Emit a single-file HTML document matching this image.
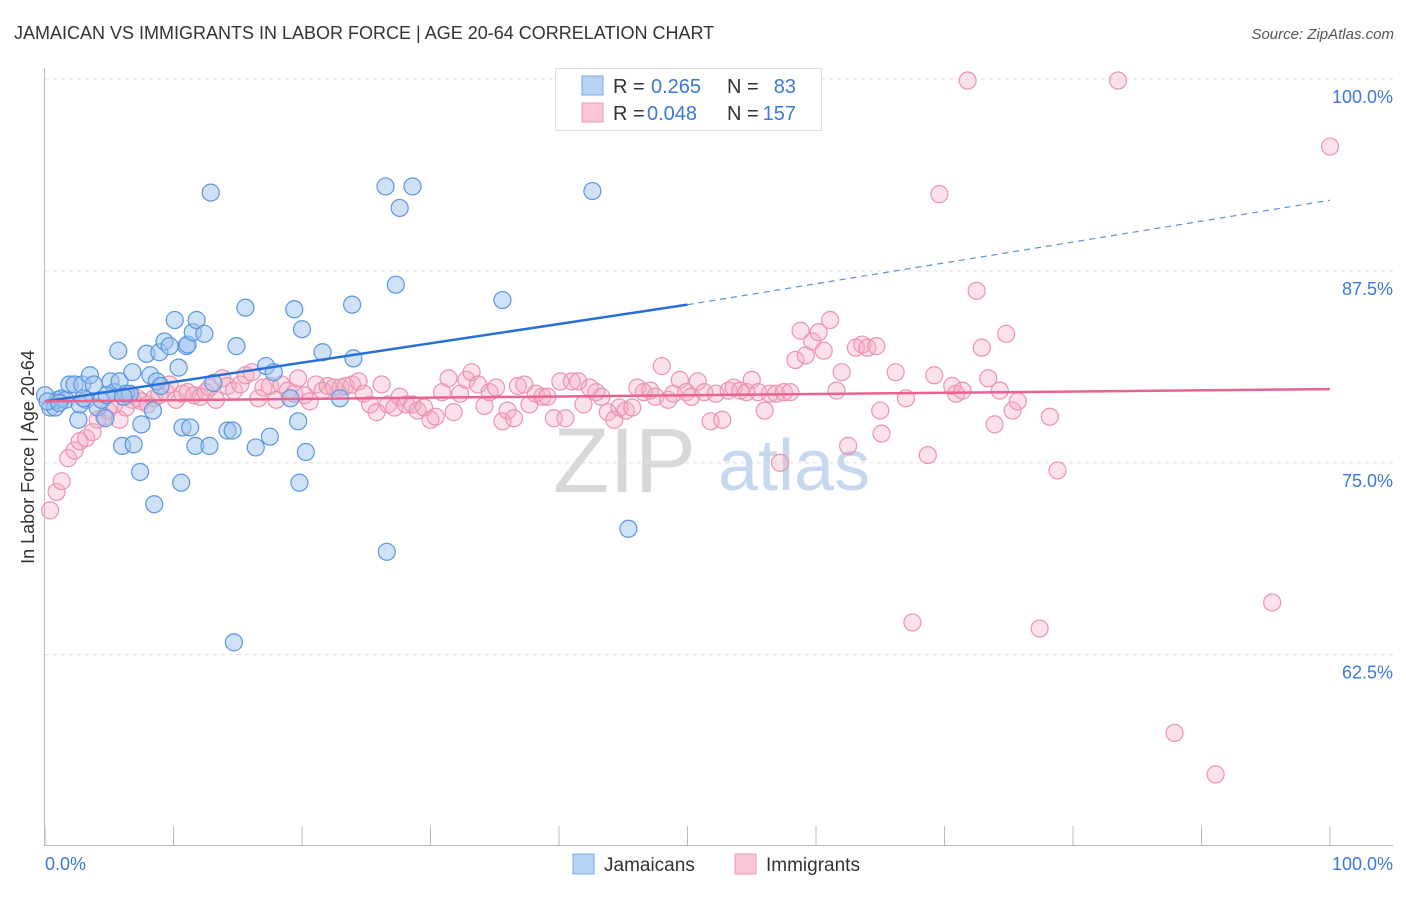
<!DOCTYPE html>
<html><head><meta charset="utf-8"><style>
body{margin:0;background:#fff;font-family:"Liberation Sans",sans-serif;}
svg text{font-family:"Liberation Sans",sans-serif;}
</style></head><body>
<svg id="chart" width="1406" height="892" xmlns="http://www.w3.org/2000/svg">
<text x="14" y="39" font-size="18" fill="#333">JAMAICAN VS IMMIGRANTS IN LABOR FORCE | AGE 20-64 CORRELATION CHART</text>
<text x="1394" y="39" font-size="15" fill="#555" font-style="italic" text-anchor="end">Source: ZipAtlas.com</text>
<g>
<text x="553" y="492" font-size="92" fill="#d8d8d8" font-family="Liberation Serif">ZIP</text>
<text x="718" y="490" font-size="72" fill="#c6d8ef">atlas</text>
</g>
<g id="grid"></g>
<g id="axes"></g>
<g id="pink"></g>
<g id="blue"></g>
<g id="trends"></g>
<text transform="translate(34,457) rotate(-90)" font-size="18" fill="#333" text-anchor="middle">In Labor Force | Age 20-64</text>
<text x="45" y="870" font-size="18" fill="#3b78d8">0.0%</text>
<text x="1393" y="870" font-size="18" fill="#3b78d8" text-anchor="end">100.0%</text>
<g>
<rect x="555.5" y="68.5" width="266" height="62" fill="#fff" stroke="#ddd"/>
<rect x="582" y="76" width="21" height="19" fill="#b6d2f5" stroke="#7aaae6"/>
<rect x="582" y="103" width="21" height="19" fill="#f9c6d6" stroke="#ec9ab5"/>
<text x="613" y="93" font-size="20" fill="#333">R =</text>
<text x="651" y="93" font-size="20" fill="#3b78d8">0.265</text>
<text x="727" y="93" font-size="20" fill="#333">N =</text>
<text x="796" y="93" font-size="20" fill="#3b78d8" text-anchor="end">83</text>
<text x="613" y="120" font-size="20" fill="#333">R =</text>
<text x="647" y="120" font-size="20" fill="#3b78d8">0.048</text>
<text x="727" y="120" font-size="20" fill="#333">N =</text>
<text x="796" y="120" font-size="20" fill="#3b78d8" text-anchor="end">157</text>
</g>
<g>
<rect x="573" y="854" width="21" height="20" fill="#b6d2f5" stroke="#7aaae6"/>
<text x="604" y="871" font-size="19" fill="#333">Jamaicans</text>
<rect x="735" y="854" width="21" height="20" fill="#f9c6d6" stroke="#ec9ab5"/>
<text x="766" y="871" font-size="19" fill="#333">Immigrants</text>
</g>
</svg>
<script>
const yTicks=[100,87.5,75,62.5];
const yTickLabels=["100.0%","87.5%","75.0%","62.5%"];
const xTicks=[0,10,20,30,40,50,60,70,80,90,100];
const blueX=[0,0.4,0.8,1.0,1.3,1.6,1.9,2.3,2.6,2.9,3.2,3.5,3.8,4.1,4.4,4.7,5.1,5.4,5.7,5.8,6.0,6.3,6.6,6.8,6.9,7.4,7.5,7.9,8.2,8.4,8.5,8.7,8.9,9.3,9.7,10.1,10.4,10.6,10.7,11.0,11.1,11.3,11.5,11.7,11.8,12.4,12.8,12.9,13.1,14.2,14.6,14.9,15.6,16.4,17.2,17.5,17.8,19.1,19.4,19.7,20.0,19.8,20.3,21.6,22.95,23.9,24.0,26.5,26.6,27.3,27.6,28.6,35.6,42.6,45.4,14.7,2.7,0.2,1.1,3.0,4.8,6.1,9.0];
const blueY=[79.4,78.6,78.6,79.1,79.2,79.1,80.1,80.1,77.8,80.1,79.1,80.7,80.1,78.6,79.1,77.9,80.3,79.6,82.3,80.3,76.1,79.5,79.5,80.9,76.2,74.4,77.5,82.1,80.7,78.4,72.3,80.3,82.2,82.9,82.6,84.3,81.2,73.7,77.3,82.6,82.7,77.3,83.5,76.1,84.3,83.4,76.1,92.6,80.2,77.1,77.1,82.6,85.1,76.0,81.3,76.7,80.9,79.2,85.0,77.7,83.7,73.7,75.7,82.2,79.2,85.3,81.8,93.0,69.2,86.6,91.6,93.0,85.6,92.7,70.7,63.3,78.8,79.0,78.9,79.2,79.4,79.3,80.0];
const pinkX=[0.4,0.9,1.3,1.8,2.3,2.7,3.2,3.7,4.1,4.6,4.9,5.4,5.8,6.3,6.8,7.2,7.5,8.0,8.5,8.9,9.4,9.7,10.2,10.7,11.1,11.6,12.1,12.5,12.8,13.3,13.8,14.2,14.7,15.2,15.6,16.1,16.6,17.0,17.5,18.0,18.4,18.9,19.4,19.7,20.2,20.6,21.1,21.6,22.0,22.5,23.0,23.4,23.9,24.4,24.8,25.3,25.8,26.2,26.7,27.2,27.6,28.1,28.6,29.0,29.5,30.0,30.4,30.9,31.4,31.8,32.3,32.8,33.2,33.7,34.2,34.6,35.1,35.6,36.0,36.5,36.8,37.3,37.7,38.2,38.7,39.1,39.6,40.1,40.5,41.0,41.5,41.9,42.4,42.9,43.3,43.8,44.3,44.7,45.2,45.7,46.1,46.6,47.1,47.5,48.0,48.5,48.9,49.4,49.9,50.3,50.8,51.3,51.8,52.2,52.7,53.2,53.6,54.1,54.6,55.0,55.5,56.0,56.4,56.9,57.2,57.5,58.0,58.4,58.8,59.2,59.7,60.2,60.6,61.1,61.6,62.0,62.5,63.1,63.6,64.0,64.7,65.0,65.1,66.2,67.0,67.5,68.7,69.2,69.6,70.6,70.9,71.4,71.8,72.5,72.9,73.4,73.9,74.3,74.8,75.3,75.7,78.2,77.4,78.8,83.5,87.9,91.1,95.5,100];
const pinkY=[71.9,73.1,73.8,75.3,75.8,76.4,76.6,77.0,77.8,78.0,78.4,78.8,77.8,78.6,79.1,79.2,79.0,78.8,79.2,79.4,79.6,80.1,79.1,79.5,79.6,79.4,79.3,79.6,79.9,79.1,80.5,80.0,79.7,80.1,80.7,80.9,79.2,79.9,80.0,79.1,80.1,79.7,79.5,80.5,79.4,79.0,80.1,79.7,80.0,79.9,79.9,80.0,80.1,80.3,79.5,78.8,78.3,80.1,78.8,78.6,79.3,78.8,78.8,78.4,78.6,77.8,78.0,79.6,80.5,78.3,79.5,80.4,80.9,80.1,78.7,79.6,79.9,77.7,78.4,77.9,80.0,80.1,78.8,79.5,79.3,79.3,77.9,80.3,77.9,80.3,80.3,78.8,79.9,79.6,79.3,78.3,77.8,78.6,78.4,78.6,79.9,79.6,79.7,79.3,81.3,79.1,79.5,80.4,79.6,79.3,80.3,79.6,77.7,79.5,77.8,79.7,79.9,79.7,79.6,80.4,79.6,78.4,79.5,79.5,75.0,79.6,79.6,81.7,83.6,82.0,82.9,83.5,82.3,84.3,79.7,80.9,76.1,82.5,82.7,82.5,82.6,78.4,76.9,80.9,79.2,64.6,75.5,80.7,92.5,80.0,79.5,79.7,99.9,86.2,82.5,80.5,77.5,79.7,83.4,78.4,79.0,78.0,64.2,74.5,99.9,57.4,54.7,65.9,95.6];
const blueTrend=[79.0,85.3,92.1]; // values at x=0, 50, 100
const pinkTrend=[79.0,79.8];     // values at x=0, 100

const X0=45,X1=1330,YTOP=79,YBOT=845,VMIN=50.1,VMAX=100;
const sx=v=>X0+(X1-X0)*v/100;
const sy=v=>YTOP+(VMAX-v)*(YBOT-YTOP)/(VMAX-VMIN);
const NS="http://www.w3.org/2000/svg";
function mk(tag,attrs,parent){const e=document.createElementNS(NS,tag);for(const k in attrs)e.setAttribute(k,attrs[k]);parent.appendChild(e);return e;}
const grid=document.getElementById('grid'),axes=document.getElementById('axes');
yTicks.forEach((t,i)=>{
  const g=mk('line',{x1:45,x2:1393,y1:sy(t),y2:sy(t),stroke:'#ddd','stroke-dasharray':'4,4'},grid);
  
  
  const l=mk('text',{x:1393,y:sy(t)+24,'font-size':18,fill:'#3b78d8','text-anchor':'end'},grid);
  l.textContent=yTickLabels[i];
  
  
});
const ya=mk('line',{x1:44.5,x2:44.5,y1:68,y2:845,stroke:'#bbb'},axes);


const xa=mk('line',{x1:44,x2:1393,y1:845.5,y2:845.5,stroke:'#bbb'},axes);


xTicks.forEach(t=>{
  const tk=mk('line',{x1:sx(t),x2:sx(t),y1:826,y2:845,stroke:'#bbb'},axes);
  
  
});
const pink=document.getElementById('pink'),blue=document.getElementById('blue');
pinkX.forEach((x,i)=>{
  const c=mk('circle',{cx:sx(x),cy:sy(pinkY[i]),r:8.5,fill:'rgba(244,168,195,0.35)',stroke:'#eb93b0','stroke-width':1.2},pink);
  
  
});
blueX.forEach((x,i)=>{
  const c=mk('circle',{cx:sx(x),cy:sy(blueY[i]),r:8.5,fill:'rgba(160,196,240,0.5)',stroke:'#5a96df','stroke-width':1.2},blue);
  
  
});
const tr=document.getElementById('trends');
const b1=mk('line',{x1:sx(0),y1:sy(blueTrend[0]),x2:sx(50),y2:sy(blueTrend[1]),stroke:'#2a6fd6','stroke-width':2.5},tr);


const b2=mk('line',{x1:sx(50),y1:sy(blueTrend[1]),x2:sx(100),y2:sy(blueTrend[2]),stroke:'#5a8fdc','stroke-width':1.2,'stroke-dasharray':'6,5'},tr);


const p1=mk('line',{x1:sx(0),y1:sy(pinkTrend[0]),x2:sx(100),y2:sy(pinkTrend[1]),stroke:'#e8648f','stroke-width':2.5},tr);


</script>
</body></html>
